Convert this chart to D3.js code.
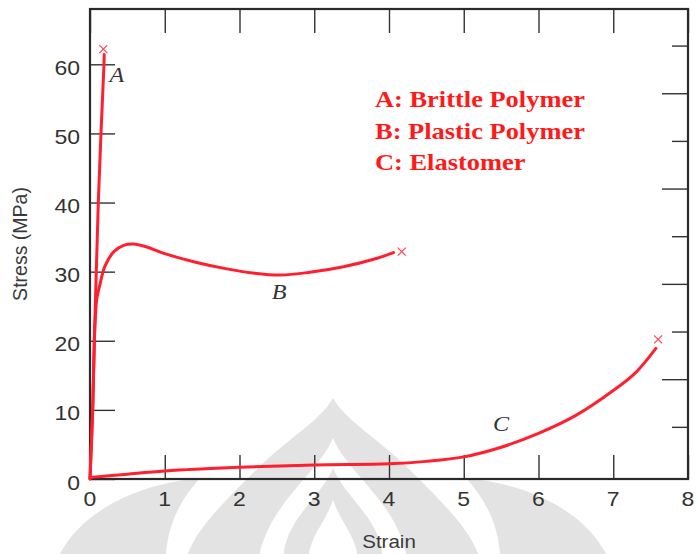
<!DOCTYPE html>
<html><head><meta charset="utf-8">
<script src="https://cdn.jsdelivr.net/npm/d3@7"></script>
<style>
html,body{margin:0;padding:0;background:#fff;}
svg{display:block;}
</style></head>
<body>
<svg id="chart" width="696" height="554"></svg>
<script>
// ---- data ----
const xTicks = [0,1,2,3,4,5,6,7,8];
const yTicks = [0,10,20,30,40,50,60];
const ksiTicks = [1,2,3,4,5,6,7,8,9];
const MPA_PER_KSI = 6.895;

const strainA = [0, 0.036, 0.058, 0.084, 0.111, 0.147, 0.187, 0.19];
const stressA = [0, 10, 20, 30, 40, 50, 60, 61.4];
const breakA = [0.178, 62.2];

const strainB = [0, 0.036, 0.058, 0.075, 0.09, 0.13, 0.2, 0.32, 0.45, 0.58, 0.75, 1.0, 1.4, 1.83, 2.18, 2.54, 2.94, 3.39, 3.83, 4.06];
const stressB = [0, 10, 20, 24, 26, 28.0, 30.8, 32.9, 33.8, 34.0, 33.6, 32.6, 31.4, 30.4, 29.8, 29.5, 29.9, 30.7, 31.9, 32.75];
const breakB = [4.17, 32.9];

const strainC = [0, 0.5, 1, 2, 3, 4, 4.5, 5.0, 5.5, 6.0, 6.5, 7.0, 7.3, 7.57];
const stressC = [0.2, 0.7, 1.16, 1.69, 2.03, 2.2, 2.55, 3.2, 4.6, 6.6, 9.2, 12.8, 15.4, 18.9];
const breakC = [7.6, 20.2];

const curveLabels = ["A", "B", "C"];
const curveLabelPos = [[0.36, 57.5], [2.53, 26.0], [5.5, 7.0]];
const legendLines = ["A: Brittle Polymer", "B: Plastic Polymer", "C: Elastomer"];

// ---- layout ----
const svg = d3.select("#chart");
const L = 90, R = 688, T = 9, B = 479;
const x = d3.scaleLinear().domain([0, 8]).range([L, R]);
const y = d3.scaleLinear().domain([0, 68]).range([B, T]);
const SX = 1.15;
const red = "#ff1f2e";
const axisCol = "#2a2a2a";

// watermark (approximate logo silhouette)
const wm = svg.append("g");
const grey = "#e3e3e3";
wm.append("path").attr("fill", grey)
  .attr("d", "M333,398 C345,420 380,440 410,470 C445,505 470,530 478,554 L188,554 C196,530 221,505 256,470 C286,440 321,420 333,398 Z");
wm.append("path").attr("fill", "#fff")
  .attr("d", "M333,438 C342,460 365,480 383,505 C398,525 405,545 406,554 L260,554 C261,545 268,525 283,505 C301,480 324,460 333,438 Z");
wm.append("path").attr("fill", grey)
  .attr("d", "M333,468 C340,485 355,500 368,518 C378,533 382,546 382,554 L284,554 C284,546 288,533 298,518 C311,500 326,485 333,468 Z");
wm.append("path").attr("fill", "#fff")
  .attr("d", "M333,500 C338,515 348,528 353,540 C356,547 357,552 357,554 L309,554 C309,552 310,547 313,540 C318,528 328,515 333,500 Z");
wm.append("path").attr("fill", grey)
  .attr("d", "M60,554 C80,515 130,485 200,478 C180,500 168,525 166,554 Z");
wm.append("path").attr("fill", grey)
  .attr("d", "M606,554 C586,515 536,485 466,478 C486,500 498,525 500,554 Z");

// axes (inward ticks)
function styleAxis(g){
  g.select(".domain").remove();
  g.selectAll(".tick line").attr("stroke", "#333").attr("stroke-width", 1.4);
}
svg.append("g").attr("transform", `translate(0,${B})`)
  .call(d3.axisBottom(x).tickValues(xTicks).tickSize(-24).tickFormat(""))
  .call(styleAxis);
svg.append("g").attr("transform", `translate(0,${T})`)
  .call(d3.axisTop(x).tickValues(xTicks).tickSize(-24).tickFormat(""))
  .call(styleAxis);
svg.append("g").attr("transform", `translate(${L},0)`)
  .call(d3.axisLeft(y).tickValues(yTicks).tickSize(-25).tickFormat(""))
  .call(styleAxis);
// right axis in ksi (unlabelled ticks)
const yK = d3.scaleLinear().domain([0, 68 / MPA_PER_KSI]).range([B, T]);
svg.append("g").attr("transform", `translate(${R},0)`)
  .selectAll("line").data(ksiTicks).join("line")
  .attr("x1", 0).attr("x2", d => d % 2 === 0 ? -26 : -16)
  .attr("y1", d => yK(d) - 4).attr("y2", d => yK(d) - 4)
  .attr("stroke", "#333").attr("stroke-width", 1.4);

// frame
svg.append("rect").attr("x", L).attr("y", T).attr("width", R - L).attr("height", B - T)
  .attr("fill", "none").attr("stroke", axisCol).attr("stroke-width", 2.2);

// tick labels
const tickFont = "'Liberation Sans', Arial, sans-serif";
svg.append("g").selectAll("text").data(yTicks).join("text")
  .attr("transform", d => `translate(80,${y(d) + 10.5}) scale(${SX},1)`)
  .attr("text-anchor", "end").attr("font-family", tickFont).attr("font-size", 20)
  .attr("fill", "#333").text(d => d);
svg.append("g").selectAll("text").data(xTicks).join("text")
  .attr("transform", d => `translate(${x(d)},506) scale(${SX},1)`)
  .attr("text-anchor", "middle").attr("font-family", tickFont).attr("font-size", 20)
  .attr("fill", "#333").text(d => d);

// axis titles
svg.append("text").attr("transform", `translate(389,548) scale(1.08,1)`)
  .attr("text-anchor", "middle").attr("font-family", tickFont).attr("font-size", 19)
  .attr("fill", "#3a3a3a").text("Strain");
svg.append("text").attr("transform", `translate(27,244) rotate(-90)`)
  .attr("text-anchor", "middle").attr("font-family", tickFont).attr("font-size", 19.5)
  .attr("fill", "#3a3a3a").text("Stress (MPa)");

// curves
const line = d3.line().x(d => x(d[0])).y(d => y(d[1]));
const series = [
  {xs: strainA, ys: stressA, brk: breakA, curve: d3.curveLinear},
  {xs: strainB, ys: stressB, brk: breakB, curve: d3.curveCatmullRom.alpha(0.5)},
  {xs: strainC, ys: stressC, brk: breakC, curve: d3.curveCatmullRom.alpha(0.5)}
];
series.forEach(s => {
  const pts = s.xs.map((v, i) => [v, s.ys[i]]);
  svg.append("path").datum(pts)
    .attr("d", line.curve(s.curve))
    .attr("fill", "none").attr("stroke", red).attr("stroke-width", 3)
    .attr("stroke-linejoin", "round").attr("stroke-linecap", "round");
  const cx = x(s.brk[0]), cy = y(s.brk[1]), r = 4;
  svg.append("path")
    .attr("d", `M${cx - r},${cy - r}L${cx + r},${cy + r}M${cx - r},${cy + r}L${cx + r},${cy - r}`)
    .attr("stroke", "#ff4a5a").attr("stroke-width", 1.3).attr("fill", "none");
});

// curve letters
svg.append("g").selectAll("text").data(curveLabels).join("text")
  .attr("transform", (d, i) => `translate(${x(curveLabelPos[i][0])},${y(curveLabelPos[i][1])}) scale(${SX},1)`)
  .attr("text-anchor", "middle").attr("font-family", "'Liberation Serif', 'Times New Roman', serif")
  .attr("font-style", "italic").attr("font-size", 21).attr("fill", "#333").text(d => d);

// legend text
svg.append("g").selectAll("text").data(legendLines).join("text")
  .attr("transform", (d, i) => `translate(375,${107 + i * 31.5}) scale(${SX},1)`)
  .attr("font-family", "'Liberation Serif', 'Times New Roman', serif")
  .attr("font-weight", "bold").attr("font-size", 23).attr("fill", "#ff1a1a").text(d => d);
</script>
</body></html>
